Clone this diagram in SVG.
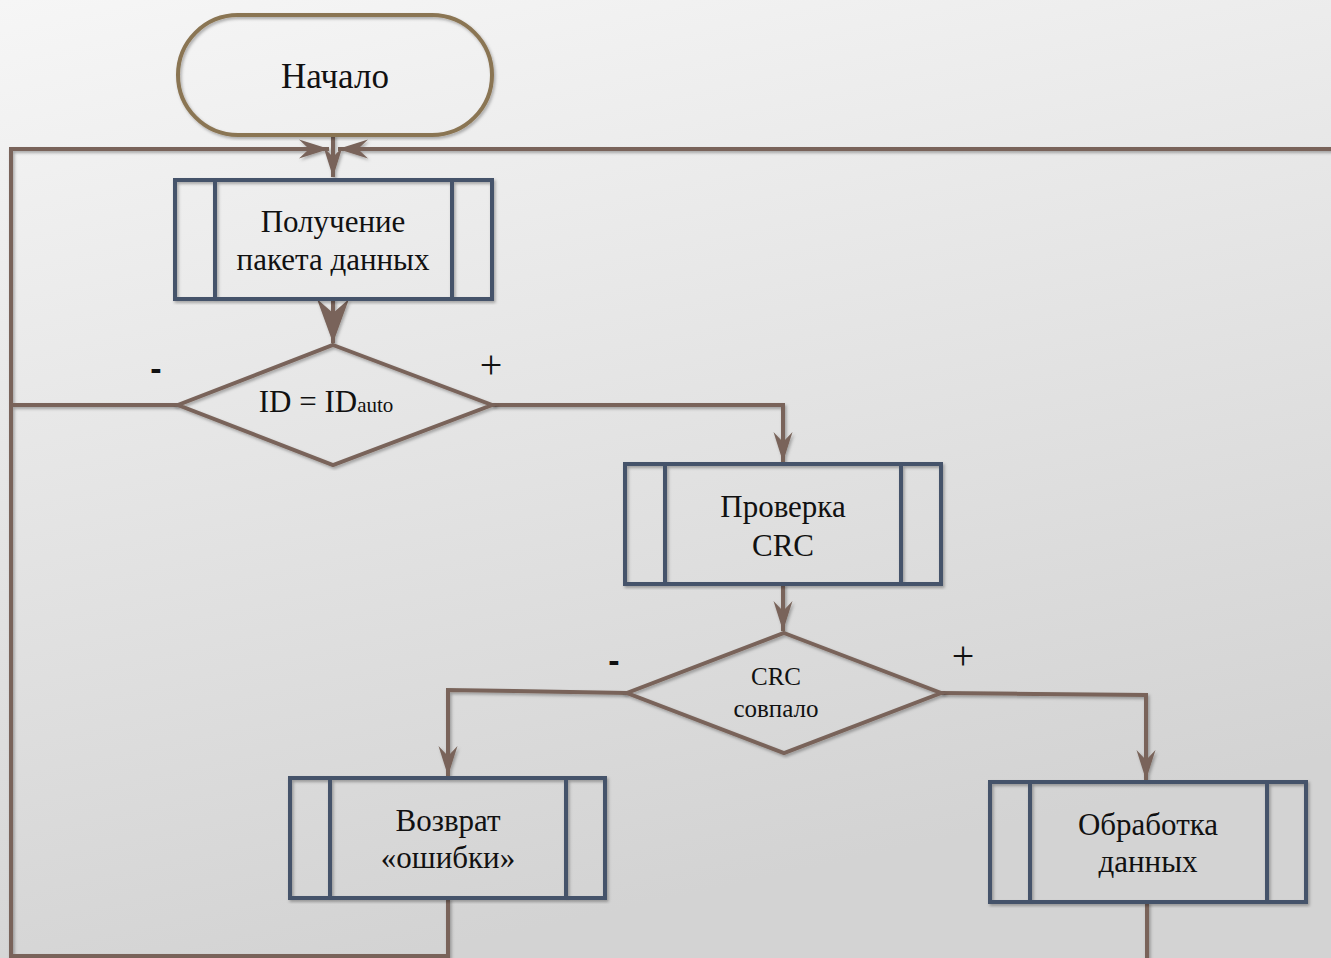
<svg xmlns="http://www.w3.org/2000/svg" width="1331" height="958" viewBox="0 0 1331 958">
<defs>
<linearGradient id="bg" x1="0" y1="0" x2="0.3" y2="1">
<stop offset="0" stop-color="#f6f6f6"/>
<stop offset="1" stop-color="#d3d3d3"/>
</linearGradient>
<filter id="sh" x="-5%" y="-5%" width="110%" height="110%">
<feDropShadow dx="1.5" dy="2" stdDeviation="1.5" flood-color="#000" flood-opacity="0.3"/>
</filter>
<marker id="arr" viewBox="-32 -11 34 22" markerWidth="34" markerHeight="22" refX="0" refY="0" orient="auto" markerUnits="userSpaceOnUse">
<path d="M0,0 L-30,-9.5 L-20,0 L-30,9.5 Z" fill="#79645a"/>
</marker>
<marker id="big" viewBox="-46 -18 48 36" markerWidth="48" markerHeight="36" refX="0" refY="0" orient="auto" markerUnits="userSpaceOnUse">
<path d="M0,0 L-44,-16 L-30,0 L-44,16 Z" fill="#79645a"/>
</marker>
</defs>
<style>
.c{fill:none;stroke:#79645a;stroke-width:4;stroke-linejoin:miter}
.p{fill:none;stroke:#45536a;stroke-width:4}
.d{fill:none;stroke:#79645a;stroke-width:4;stroke-linejoin:miter}
.t{font-family:"Liberation Serif","Times New Roman",serif;fill:#111;text-anchor:middle}
.s{font-family:"Liberation Serif","Times New Roman",serif;fill:#111;text-anchor:middle;font-size:40px}
.m{font-family:"Liberation Sans",Arial,sans-serif;fill:#111;text-anchor:middle;font-size:34px;font-weight:bold}
</style>
<rect width="1331" height="958" fill="url(#bg)"/>

<g id="connectors" filter="url(#sh)">
<path class="c" d="M333,135 V177" marker-end="url(#arr)"/>
<path class="c" d="M448,898 V956 H11 V149 H329" marker-end="url(#arr)"/>
<path class="c" d="M1147,902 V975 H1350 V149 H338" marker-end="url(#arr)"/>
<path class="c" d="M333,299 V343" marker-end="url(#big)"/>
<path class="c" d="M178,405 H11"/>
<path class="c" d="M492,405 H783 V462" marker-end="url(#arr)"/>
<path class="c" d="M783,584 V631" marker-end="url(#arr)"/>
<path class="c" d="M627,693 L448,690 V776" marker-end="url(#arr)"/>
<path class="c" d="M941,693 L1146,695 V780" marker-end="url(#arr)"/>
</g>

<g id="start">
<rect x="178" y="15" width="314" height="120" rx="60" fill="none" stroke="#8a7452" stroke-width="4" filter="url(#sh)"/>
<text class="t" x="335" y="88" font-size="35">Начало</text>
</g>

<g id="receive">
<g filter="url(#sh)">
<rect class="p" x="175" y="180" width="317" height="119"/>
<path class="p" d="M215,180 V299 M452,180 V299"/>
</g>
<text class="t" x="333" y="232" font-size="31">Получение</text>
<text class="t" x="333" y="270" font-size="31">пакета данных</text>
</g>

<g id="check-id">
<polygon class="d" points="333,345 492,405 333,465 178,405" filter="url(#sh)"/>
<text class="t" x="326" y="412" font-size="31">ID = ID<tspan font-size="21">auto</tspan></text>
<text class="m" x="156" y="380">-</text>
<text class="s" x="491" y="378">+</text>
</g>

<g id="check-crc">
<g filter="url(#sh)">
<rect class="p" x="625" y="464" width="316" height="120"/>
<path class="p" d="M665,464 V584 M901,464 V584"/>
</g>
<text class="t" x="783" y="517" font-size="31">Проверка</text>
<text class="t" x="783" y="556" font-size="31">CRC</text>
</g>

<g id="crc-match">
<polygon class="d" points="784,633 941,693 784,753 627,693" filter="url(#sh)"/>
<text class="t" x="776" y="685" font-size="25">CRC</text>
<text class="t" x="776" y="717" font-size="25">совпало</text>
<text class="m" x="614" y="672">-</text>
<text class="s" x="963" y="669">+</text>
</g>

<g id="error">
<g filter="url(#sh)">
<rect class="p" x="290" y="778" width="315" height="120"/>
<path class="p" d="M330,778 V898 M566,778 V898"/>
</g>
<text class="t" x="448" y="831" font-size="31">Возврат</text>
<text class="t" x="448" y="868" font-size="31">«ошибки»</text>
</g>

<g id="process">
<g filter="url(#sh)">
<rect class="p" x="990" y="782" width="316" height="120"/>
<path class="p" d="M1030,782 V902 M1267,782 V902"/>
</g>
<text class="t" x="1148" y="835" font-size="31">Обработка</text>
<text class="t" x="1148" y="872" font-size="31">данных</text>
</g>
</svg>
